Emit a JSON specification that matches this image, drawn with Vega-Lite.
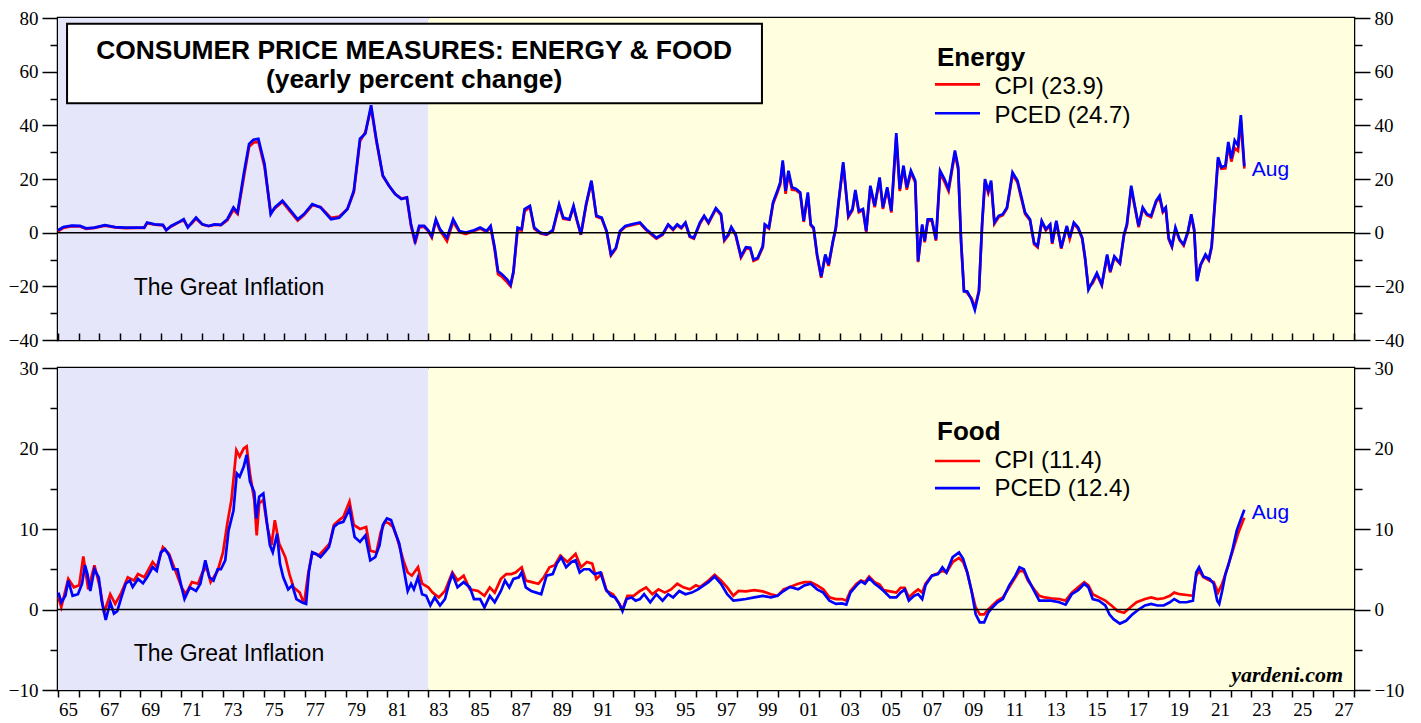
{
  "$schema": "https://vega.github.io/schema/vega-lite/v6.json",
  "padding": {"left": 7, "top": 7, "right": 5, "bottom": 5},
  "background": "white",
  "bounds": "flush",
  "spacing": 28,
  "config": {
    "view": {"stroke": "#000", "strokeWidth": 2.5},
    "axis": {"domain": false, "grid": false, "tickColor": "#000", "tickWidth": 1.5, "labelColor": "#000", "labelFont": "Liberation Serif", "labelFontSize": 19},
    "text": {"font": "Liberation Sans", "color": "#000"}
  },
  "datasets": {
    "bands": [{"t": 1965, "t2": 1983, "era": "gi"}, {"t": 1983, "t2": 2028, "era": "post"}],
    "energy": [
      {"t":1965.0,"CPI":0.5,"PCED":0.9},{"t":1965.26,"CPI":1.8,"PCED":2.1},{"t":1965.67,"CPI":2.4,"PCED":2.6},{"t":1966.07,"CPI":2.3,"PCED":2.5},{"t":1966.37,"CPI":1.4,"PCED":1.6},{"t":1966.77,"CPI":1.8,"PCED":1.9},{"t":1967.28,"CPI":2.6,"PCED":2.8},{"t":1967.78,"CPI":2.0,"PCED":2.1},{"t":1968.29,"CPI":1.7,"PCED":1.9},{"t":1968.79,"CPI":1.8,"PCED":1.9},{"t":1969.19,"CPI":1.8,"PCED":1.9},{"t":1969.33,"CPI":3.5,"PCED":3.8},{"t":1969.7,"CPI":3.0,"PCED":3.1},{"t":1970.1,"CPI":2.7,"PCED":2.9},{"t":1970.26,"CPI":1.0,"PCED":0.9},{"t":1970.5,"CPI":2.3,"PCED":2.5},{"t":1970.91,"CPI":4.0,"PCED":4.1},{"t":1971.11,"CPI":4.6,"PCED":5.0},{"t":1971.31,"CPI":2.2,"PCED":1.9},{"t":1971.51,"CPI":3.5,"PCED":3.8},{"t":1971.71,"CPI":5.2,"PCED":5.6},{"t":1972.02,"CPI":3.0,"PCED":3.1},{"t":1972.32,"CPI":2.4,"PCED":2.5},{"t":1972.62,"CPI":3.0,"PCED":3.1},{"t":1972.92,"CPI":2.8,"PCED":2.9},{"t":1973.23,"CPI":4.6,"PCED":5.0},{"t":1973.53,"CPI":8.5,"PCED":9.4},{"t":1973.73,"CPI":7.0,"PCED":7.5},{"t":1974.03,"CPI":20.5,"PCED":21.9},{"t":1974.29,"CPI":32.0,"PCED":33.1},{"t":1974.5,"CPI":33.5,"PCED":34.6},{"t":1974.74,"CPI":34.0,"PCED":35.0},{"t":1975.04,"CPI":24.5,"PCED":25.6},{"t":1975.34,"CPI":7.5,"PCED":6.9},{"t":1975.54,"CPI":9.0,"PCED":9.4},{"t":1975.91,"CPI":11.5,"PCED":11.9},{"t":1976.25,"CPI":8.2,"PCED":8.8},{"t":1976.65,"CPI":4.5,"PCED":5.0},{"t":1976.96,"CPI":6.6,"PCED":6.9},{"t":1977.36,"CPI":10.2,"PCED":10.6},{"t":1977.76,"CPI":9.6,"PCED":9.4},{"t":1978.27,"CPI":5.5,"PCED":5.0},{"t":1978.67,"CPI":6.0,"PCED":5.6},{"t":1979.07,"CPI":8.8,"PCED":8.8},{"t":1979.38,"CPI":15.0,"PCED":15.6},{"t":1979.68,"CPI":34.0,"PCED":35.0},{"t":1979.94,"CPI":37.5,"PCED":36.9},{"t":1980.22,"CPI":46.5,"PCED":47.5},{"t":1980.48,"CPI":34.0,"PCED":34.4},{"t":1980.79,"CPI":21.0,"PCED":21.3},{"t":1981.09,"CPI":17.5,"PCED":17.5},{"t":1981.39,"CPI":14.4,"PCED":14.4},{"t":1981.69,"CPI":12.8,"PCED":12.5},{"t":1981.96,"CPI":13.0,"PCED":13.1},{"t":1982.16,"CPI":2.5,"PCED":3.1},{"t":1982.36,"CPI":-4.0,"PCED":-3.1},{"t":1982.56,"CPI":2.0,"PCED":2.5},{"t":1982.8,"CPI":2.2,"PCED":2.5},{"t":1983.0,"CPI":0.5,"PCED":0.9},{"t":1983.17,"CPI":-1.8,"PCED":-1.3},{"t":1983.37,"CPI":4.5,"PCED":5.0},{"t":1983.57,"CPI":0.8,"PCED":1.3},{"t":1983.91,"CPI":-3.2,"PCED":-1.9},{"t":1984.21,"CPI":4.0,"PCED":5.0},{"t":1984.52,"CPI":0.2,"PCED":0.6},{"t":1984.82,"CPI":-0.5,"PCED":0.0},{"t":1985.22,"CPI":0.6,"PCED":0.9},{"t":1985.52,"CPI":1.5,"PCED":1.9},{"t":1985.83,"CPI":0.3,"PCED":0.6},{"t":1986.03,"CPI":2.0,"PCED":2.5},{"t":1986.23,"CPI":-6.5,"PCED":-5.6},{"t":1986.39,"CPI":-15.5,"PCED":-14.4},{"t":1986.59,"CPI":-16.5,"PCED":-15.6},{"t":1986.84,"CPI":-18.5,"PCED":-17.5},{"t":1987.0,"CPI":-20.0,"PCED":-19.4},{"t":1987.14,"CPI":-15.0,"PCED":-14.4},{"t":1987.34,"CPI":1.0,"PCED":1.9},{"t":1987.54,"CPI":0.8,"PCED":1.3},{"t":1987.68,"CPI":8.0,"PCED":8.8},{"t":1987.94,"CPI":9.5,"PCED":10.0},{"t":1988.15,"CPI":1.5,"PCED":1.9},{"t":1988.45,"CPI":-0.3,"PCED":0.0},{"t":1988.75,"CPI":-0.8,"PCED":-0.6},{"t":1989.05,"CPI":0.6,"PCED":0.9},{"t":1989.36,"CPI":10.0,"PCED":10.6},{"t":1989.56,"CPI":5.2,"PCED":5.6},{"t":1989.86,"CPI":4.8,"PCED":5.0},{"t":1990.06,"CPI":9.5,"PCED":10.0},{"t":1990.22,"CPI":4.6,"PCED":5.0},{"t":1990.42,"CPI":-0.8,"PCED":-0.6},{"t":1990.67,"CPI":10.0,"PCED":10.6},{"t":1990.93,"CPI":19.0,"PCED":19.4},{"t":1991.17,"CPI":6.0,"PCED":6.3},{"t":1991.43,"CPI":5.2,"PCED":5.6},{"t":1991.67,"CPI":0.3,"PCED":0.6},{"t":1991.88,"CPI":-8.5,"PCED":-8.1},{"t":1992.12,"CPI":-6.0,"PCED":-5.6},{"t":1992.32,"CPI":0.3,"PCED":0.6},{"t":1992.58,"CPI":2.2,"PCED":2.5},{"t":1992.88,"CPI":2.8,"PCED":3.1},{"t":1993.29,"CPI":3.5,"PCED":3.8},{"t":1993.59,"CPI":1.0,"PCED":1.3},{"t":1993.89,"CPI":-1.0,"PCED":-0.6},{"t":1994.09,"CPI":-2.2,"PCED":-1.9},{"t":1994.39,"CPI":-0.8,"PCED":-0.6},{"t":1994.66,"CPI":2.8,"PCED":3.1},{"t":1994.9,"CPI":1.0,"PCED":1.3},{"t":1995.1,"CPI":2.8,"PCED":3.1},{"t":1995.3,"CPI":1.6,"PCED":1.9},{"t":1995.5,"CPI":3.5,"PCED":3.8},{"t":1995.71,"CPI":-1.5,"PCED":-1.3},{"t":1995.91,"CPI":-2.2,"PCED":-1.9},{"t":1996.21,"CPI":3.4,"PCED":3.8},{"t":1996.41,"CPI":6.0,"PCED":6.3},{"t":1996.62,"CPI":3.5,"PCED":3.8},{"t":1996.98,"CPI":8.8,"PCED":9.1},{"t":1997.23,"CPI":6.5,"PCED":6.9},{"t":1997.39,"CPI":-3.0,"PCED":-2.5},{"t":1997.59,"CPI":-1.0,"PCED":-0.6},{"t":1997.73,"CPI":1.8,"PCED":2.1},{"t":1997.94,"CPI":-1.0,"PCED":-0.6},{"t":1998.2,"CPI":-9.3,"PCED":-8.8},{"t":1998.44,"CPI":-6.0,"PCED":-5.4},{"t":1998.65,"CPI":-6.0,"PCED":-5.6},{"t":1998.81,"CPI":-10.5,"PCED":-10.0},{"t":1999.01,"CPI":-9.8,"PCED":-9.4},{"t":1999.26,"CPI":-5.5,"PCED":-5.0},{"t":1999.36,"CPI":2.6,"PCED":3.1},{"t":1999.56,"CPI":1.5,"PCED":1.9},{"t":1999.76,"CPI":10.8,"PCED":11.3},{"t":1999.97,"CPI":15.0,"PCED":15.6},{"t":2000.11,"CPI":18.0,"PCED":18.8},{"t":2000.23,"CPI":25.8,"PCED":26.9},{"t":2000.37,"CPI":14.5,"PCED":15.6},{"t":2000.51,"CPI":22.0,"PCED":23.1},{"t":2000.68,"CPI":16.0,"PCED":16.9},{"t":2000.88,"CPI":15.8,"PCED":16.3},{"t":2001.08,"CPI":14.5,"PCED":15.0},{"t":2001.25,"CPI":4.0,"PCED":4.4},{"t":2001.45,"CPI":14.0,"PCED":15.0},{"t":2001.59,"CPI":2.8,"PCED":3.1},{"t":2001.73,"CPI":1.5,"PCED":1.9},{"t":2001.9,"CPI":-8.6,"PCED":-8.1},{"t":2002.1,"CPI":-16.8,"PCED":-16.3},{"t":2002.3,"CPI":-8.6,"PCED":-8.1},{"t":2002.46,"CPI":-12.4,"PCED":-11.9},{"t":2002.67,"CPI":-3.5,"PCED":-3.1},{"t":2002.81,"CPI":1.4,"PCED":1.9},{"t":2002.95,"CPI":11.3,"PCED":11.9},{"t":2003.17,"CPI":25.5,"PCED":26.3},{"t":2003.42,"CPI":5.8,"PCED":6.3},{"t":2003.62,"CPI":8.3,"PCED":8.8},{"t":2003.76,"CPI":15.0,"PCED":15.9},{"t":2003.93,"CPI":7.6,"PCED":8.1},{"t":2004.13,"CPI":8.3,"PCED":8.8},{"t":2004.29,"CPI":0.2,"PCED":0.6},{"t":2004.49,"CPI":16.8,"PCED":17.5},{"t":2004.7,"CPI":9.5,"PCED":10.0},{"t":2004.94,"CPI":19.8,"PCED":20.6},{"t":2005.1,"CPI":8.8,"PCED":9.4},{"t":2005.31,"CPI":16.2,"PCED":16.9},{"t":2005.51,"CPI":7.5,"PCED":8.1},{"t":2005.75,"CPI":35.5,"PCED":37.1},{"t":2005.92,"CPI":15.5,"PCED":16.3},{"t":2006.1,"CPI":24.0,"PCED":25.0},{"t":2006.26,"CPI":16.0,"PCED":16.9},{"t":2006.46,"CPI":22.3,"PCED":23.1},{"t":2006.67,"CPI":18.8,"PCED":19.4},{"t":2006.81,"CPI":-11.0,"PCED":-10.6},{"t":2007.01,"CPI":2.5,"PCED":3.1},{"t":2007.13,"CPI":-3.6,"PCED":-3.1},{"t":2007.28,"CPI":4.4,"PCED":5.0},{"t":2007.48,"CPI":4.5,"PCED":5.0},{"t":2007.68,"CPI":-3.0,"PCED":-2.5},{"t":2007.88,"CPI":22.0,"PCED":23.1},{"t":2008.09,"CPI":19.0,"PCED":20.0},{"t":2008.29,"CPI":15.5,"PCED":16.3},{"t":2008.6,"CPI":29.5,"PCED":30.6},{"t":2008.76,"CPI":23.5,"PCED":24.4},{"t":2008.9,"CPI":-3.5,"PCED":-3.1},{"t":2009.04,"CPI":-21.5,"PCED":-21.9},{"t":2009.2,"CPI":-22.5,"PCED":-21.9},{"t":2009.41,"CPI":-24.5,"PCED":-25.0},{"t":2009.57,"CPI":-27.8,"PCED":-28.8},{"t":2009.77,"CPI":-21.5,"PCED":-21.9},{"t":2009.92,"CPI":2.5,"PCED":3.1},{"t":2010.06,"CPI":18.8,"PCED":20.0},{"t":2010.22,"CPI":14.8,"PCED":15.6},{"t":2010.36,"CPI":18.5,"PCED":19.4},{"t":2010.52,"CPI":3.3,"PCED":3.8},{"t":2010.73,"CPI":5.8,"PCED":6.3},{"t":2010.93,"CPI":6.5,"PCED":6.9},{"t":2011.13,"CPI":9.0,"PCED":9.4},{"t":2011.4,"CPI":21.5,"PCED":22.5},{"t":2011.64,"CPI":18.8,"PCED":19.4},{"t":2011.8,"CPI":13.6,"PCED":14.4},{"t":2012.01,"CPI":7.0,"PCED":7.5},{"t":2012.25,"CPI":4.6,"PCED":5.0},{"t":2012.45,"CPI":-4.3,"PCED":-3.8},{"t":2012.62,"CPI":-5.5,"PCED":-5.0},{"t":2012.82,"CPI":4.0,"PCED":4.4},{"t":2013.02,"CPI":0.9,"PCED":1.3},{"t":2013.23,"CPI":2.7,"PCED":3.1},{"t":2013.33,"CPI":-4.2,"PCED":-3.8},{"t":2013.53,"CPI":4.0,"PCED":4.4},{"t":2013.77,"CPI":-6.0,"PCED":-5.6},{"t":2014.04,"CPI":2.1,"PCED":2.5},{"t":2014.18,"CPI":-2.3,"PCED":-1.9},{"t":2014.38,"CPI":3.3,"PCED":3.8},{"t":2014.59,"CPI":1.5,"PCED":1.9},{"t":2014.79,"CPI":-2.4,"PCED":-1.9},{"t":2014.93,"CPI":-10.0,"PCED":-9.4},{"t":2015.09,"CPI":-20.5,"PCED":-21.3},{"t":2015.3,"CPI":-18.8,"PCED":-18.1},{"t":2015.5,"CPI":-15.6,"PCED":-15.0},{"t":2015.74,"CPI":-19.6,"PCED":-19.4},{"t":2016.0,"CPI":-8.8,"PCED":-8.1},{"t":2016.15,"CPI":-14.8,"PCED":-14.4},{"t":2016.35,"CPI":-9.3,"PCED":-8.8},{"t":2016.62,"CPI":-11.6,"PCED":-11.3},{"t":2016.82,"CPI":-1.0,"PCED":-0.6},{"t":2016.96,"CPI":2.6,"PCED":3.1},{"t":2017.17,"CPI":16.5,"PCED":17.5},{"t":2017.33,"CPI":10.0,"PCED":10.6},{"t":2017.53,"CPI":2.0,"PCED":2.5},{"t":2017.73,"CPI":8.8,"PCED":9.4},{"t":2017.94,"CPI":6.5,"PCED":6.9},{"t":2018.14,"CPI":5.8,"PCED":6.3},{"t":2018.38,"CPI":11.4,"PCED":11.9},{"t":2018.55,"CPI":13.0,"PCED":13.8},{"t":2018.71,"CPI":7.6,"PCED":8.1},{"t":2018.85,"CPI":8.9,"PCED":9.4},{"t":2018.99,"CPI":-2.4,"PCED":-1.9},{"t":2019.15,"CPI":-5.3,"PCED":-5.0},{"t":2019.32,"CPI":1.4,"PCED":1.9},{"t":2019.52,"CPI":-2.8,"PCED":-2.5},{"t":2019.72,"CPI":-4.8,"PCED":-4.4},{"t":2019.93,"CPI":0.2,"PCED":0.6},{"t":2020.09,"CPI":6.3,"PCED":6.9},{"t":2020.23,"CPI":0.8,"PCED":1.3},{"t":2020.37,"CPI":-17.7,"PCED":-18.1},{"t":2020.54,"CPI":-12.2,"PCED":-11.9},{"t":2020.78,"CPI":-8.6,"PCED":-8.1},{"t":2020.94,"CPI":-10.3,"PCED":-10.0},{"t":2021.08,"CPI":-5.5,"PCED":-5.0},{"t":2021.23,"CPI":9.8,"PCED":10.6},{"t":2021.39,"CPI":27.0,"PCED":28.1},{"t":2021.55,"CPI":23.8,"PCED":24.4},{"t":2021.75,"CPI":24.0,"PCED":25.0},{"t":2021.89,"CPI":32.5,"PCED":33.8},{"t":2022.04,"CPI":26.5,"PCED":27.5},{"t":2022.2,"CPI":31.5,"PCED":34.4},{"t":2022.36,"CPI":30.5,"PCED":32.5},{"t":2022.5,"CPI":41.5,"PCED":43.8},{"t":2022.67,"CPI":23.9,"PCED":24.7}
    ],
    "food": [
      {"t":1965.02,"s":"CPI","v":1.5},{"t":1965.16,"s":"CPI","v":0.3},{"t":1965.5,"s":"CPI","v":3.8},{"t":1965.77,"s":"CPI","v":2.75},{"t":1966.03,"s":"CPI","v":3.0},{"t":1966.23,"s":"CPI","v":6.6},{"t":1966.47,"s":"CPI","v":2.5},{"t":1966.77,"s":"CPI","v":5.5},{"t":1967.04,"s":"CPI","v":2.75},{"t":1967.24,"s":"CPI","v":-0.4},{"t":1967.54,"s":"CPI","v":1.9},{"t":1967.78,"s":"CPI","v":0.7},{"t":1968.08,"s":"CPI","v":2.1},{"t":1968.39,"s":"CPI","v":4.0},{"t":1968.69,"s":"CPI","v":3.6},{"t":1968.89,"s":"CPI","v":4.4},{"t":1969.19,"s":"CPI","v":4.0},{"t":1969.6,"s":"CPI","v":5.9},{"t":1969.8,"s":"CPI","v":5.25},{"t":1970.1,"s":"CPI","v":7.75},{"t":1970.4,"s":"CPI","v":6.9},{"t":1970.71,"s":"CPI","v":4.8},{"t":1971.01,"s":"CPI","v":2.75},{"t":1971.21,"s":"CPI","v":1.9},{"t":1971.51,"s":"CPI","v":3.4},{"t":1971.81,"s":"CPI","v":3.2},{"t":1972.02,"s":"CPI","v":4.6},{"t":1972.22,"s":"CPI","v":5.25},{"t":1972.42,"s":"CPI","v":3.4},{"t":1972.76,"s":"CPI","v":4.8},{"t":1973.02,"s":"CPI","v":7.1},{"t":1973.23,"s":"CPI","v":10.7},{"t":1973.43,"s":"CPI","v":13.6},{"t":1973.67,"s":"CPI","v":19.8},{"t":1973.83,"s":"CPI","v":19.0},{"t":1974.03,"s":"CPI","v":20.0},{"t":1974.17,"s":"CPI","v":20.25},{"t":1974.33,"s":"CPI","v":16.9},{"t":1974.54,"s":"CPI","v":13.6},{"t":1974.66,"s":"CPI","v":9.2},{"t":1974.78,"s":"CPI","v":13.2},{"t":1974.98,"s":"CPI","v":13.6},{"t":1975.18,"s":"CPI","v":10.25},{"t":1975.38,"s":"CPI","v":8.0},{"t":1975.54,"s":"CPI","v":11.1},{"t":1975.75,"s":"CPI","v":8.2},{"t":1976.05,"s":"CPI","v":6.5},{"t":1976.25,"s":"CPI","v":4.4},{"t":1976.45,"s":"CPI","v":2.75},{"t":1976.75,"s":"CPI","v":2.1},{"t":1976.96,"s":"CPI","v":0.7},{"t":1977.16,"s":"CPI","v":4.4},{"t":1977.36,"s":"CPI","v":7.1},{"t":1977.66,"s":"CPI","v":6.7},{"t":1977.96,"s":"CPI","v":7.5},{"t":1978.21,"s":"CPI","v":8.2},{"t":1978.41,"s":"CPI","v":10.5},{"t":1978.67,"s":"CPI","v":11.1},{"t":1978.87,"s":"CPI","v":11.5},{"t":1979.17,"s":"CPI","v":13.4},{"t":1979.38,"s":"CPI","v":10.5},{"t":1979.68,"s":"CPI","v":10.0},{"t":1979.98,"s":"CPI","v":10.25},{"t":1980.18,"s":"CPI","v":7.3},{"t":1980.48,"s":"CPI","v":7.1},{"t":1980.69,"s":"CPI","v":9.6},{"t":1980.89,"s":"CPI","v":10.9},{"t":1981.09,"s":"CPI","v":10.7},{"t":1981.29,"s":"CPI","v":10.25},{"t":1981.49,"s":"CPI","v":8.8},{"t":1981.79,"s":"CPI","v":6.1},{"t":1982.0,"s":"CPI","v":4.6},{"t":1982.2,"s":"CPI","v":4.2},{"t":1982.5,"s":"CPI","v":5.25},{"t":1982.7,"s":"CPI","v":3.2},{"t":1983.0,"s":"CPI","v":2.75},{"t":1983.21,"s":"CPI","v":2.1},{"t":1983.51,"s":"CPI","v":1.5},{"t":1983.81,"s":"CPI","v":2.3},{"t":1984.17,"s":"CPI","v":4.6},{"t":1984.42,"s":"CPI","v":3.6},{"t":1984.72,"s":"CPI","v":4.2},{"t":1985.02,"s":"CPI","v":2.5},{"t":1985.42,"s":"CPI","v":2.3},{"t":1985.73,"s":"CPI","v":1.7},{"t":1985.99,"s":"CPI","v":2.75},{"t":1986.23,"s":"CPI","v":2.1},{"t":1986.53,"s":"CPI","v":3.8},{"t":1986.79,"s":"CPI","v":4.4},{"t":1987.04,"s":"CPI","v":4.4},{"t":1987.24,"s":"CPI","v":4.6},{"t":1987.54,"s":"CPI","v":5.25},{"t":1987.74,"s":"CPI","v":3.6},{"t":1988.04,"s":"CPI","v":3.4},{"t":1988.35,"s":"CPI","v":3.2},{"t":1988.61,"s":"CPI","v":4.0},{"t":1988.89,"s":"CPI","v":5.25},{"t":1989.15,"s":"CPI","v":5.5},{"t":1989.42,"s":"CPI","v":6.7},{"t":1989.76,"s":"CPI","v":5.9},{"t":1990.16,"s":"CPI","v":6.9},{"t":1990.42,"s":"CPI","v":5.25},{"t":1990.71,"s":"CPI","v":5.9},{"t":1990.97,"s":"CPI","v":5.7},{"t":1991.17,"s":"CPI","v":3.8},{"t":1991.43,"s":"CPI","v":4.4},{"t":1991.67,"s":"CPI","v":2.3},{"t":1991.98,"s":"CPI","v":1.9},{"t":1992.24,"s":"CPI","v":0.9},{"t":1992.44,"s":"CPI","v":0.0},{"t":1992.68,"s":"CPI","v":1.7},{"t":1992.98,"s":"CPI","v":1.7},{"t":1993.29,"s":"CPI","v":2.3},{"t":1993.59,"s":"CPI","v":2.75},{"t":1993.89,"s":"CPI","v":1.9},{"t":1994.19,"s":"CPI","v":2.5},{"t":1994.5,"s":"CPI","v":2.1},{"t":1994.8,"s":"CPI","v":2.5},{"t":1995.1,"s":"CPI","v":3.2},{"t":1995.4,"s":"CPI","v":2.75},{"t":1995.71,"s":"CPI","v":2.5},{"t":1996.01,"s":"CPI","v":3.0},{"t":1996.21,"s":"CPI","v":2.8},{"t":1996.62,"s":"CPI","v":3.6},{"t":1996.92,"s":"CPI","v":4.3},{"t":1997.23,"s":"CPI","v":3.6},{"t":1997.53,"s":"CPI","v":2.75},{"t":1997.83,"s":"CPI","v":1.7},{"t":1998.08,"s":"CPI","v":2.3},{"t":1998.44,"s":"CPI","v":2.25},{"t":1998.85,"s":"CPI","v":2.4},{"t":1999.26,"s":"CPI","v":2.25},{"t":1999.66,"s":"CPI","v":1.9},{"t":1999.97,"s":"CPI","v":1.7},{"t":2000.27,"s":"CPI","v":2.5},{"t":2000.58,"s":"CPI","v":2.8},{"t":2000.98,"s":"CPI","v":3.2},{"t":2001.29,"s":"CPI","v":3.4},{"t":2001.59,"s":"CPI","v":3.4},{"t":2001.9,"s":"CPI","v":3.0},{"t":2002.2,"s":"CPI","v":2.5},{"t":2002.5,"s":"CPI","v":1.5},{"t":2002.81,"s":"CPI","v":1.3},{"t":2003.11,"s":"CPI","v":1.3},{"t":2003.32,"s":"CPI","v":1.1},{"t":2003.52,"s":"CPI","v":2.3},{"t":2003.82,"s":"CPI","v":3.2},{"t":2004.03,"s":"CPI","v":3.6},{"t":2004.23,"s":"CPI","v":3.4},{"t":2004.43,"s":"CPI","v":4.1},{"t":2004.7,"s":"CPI","v":3.4},{"t":2004.94,"s":"CPI","v":3.1},{"t":2005.14,"s":"CPI","v":2.4},{"t":2005.45,"s":"CPI","v":2.25},{"t":2005.75,"s":"CPI","v":2.1},{"t":2005.96,"s":"CPI","v":2.7},{"t":2006.16,"s":"CPI","v":2.7},{"t":2006.36,"s":"CPI","v":1.5},{"t":2006.61,"s":"CPI","v":2.1},{"t":2006.81,"s":"CPI","v":2.5},{"t":2007.01,"s":"CPI","v":2.1},{"t":2007.17,"s":"CPI","v":3.2},{"t":2007.48,"s":"CPI","v":4.2},{"t":2007.78,"s":"CPI","v":4.5},{"t":2007.99,"s":"CPI","v":4.8},{"t":2008.19,"s":"CPI","v":4.6},{"t":2008.49,"s":"CPI","v":5.9},{"t":2008.8,"s":"CPI","v":6.4},{"t":2009.0,"s":"CPI","v":5.9},{"t":2009.2,"s":"CPI","v":4.6},{"t":2009.41,"s":"CPI","v":2.3},{"t":2009.61,"s":"CPI","v":0.25},{"t":2009.81,"s":"CPI","v":-0.6},{"t":2010.02,"s":"CPI","v":-0.6},{"t":2010.22,"s":"CPI","v":0.0},{"t":2010.42,"s":"CPI","v":0.5},{"t":2010.67,"s":"CPI","v":1.1},{"t":2010.93,"s":"CPI","v":1.5},{"t":2011.24,"s":"CPI","v":2.75},{"t":2011.54,"s":"CPI","v":4.0},{"t":2011.74,"s":"CPI","v":4.8},{"t":2011.95,"s":"CPI","v":4.75},{"t":2012.15,"s":"CPI","v":3.6},{"t":2012.45,"s":"CPI","v":2.5},{"t":2012.7,"s":"CPI","v":1.7},{"t":2012.96,"s":"CPI","v":1.5},{"t":2013.27,"s":"CPI","v":1.4},{"t":2013.67,"s":"CPI","v":1.3},{"t":2013.98,"s":"CPI","v":1.1},{"t":2014.28,"s":"CPI","v":2.1},{"t":2014.59,"s":"CPI","v":2.75},{"t":2014.89,"s":"CPI","v":3.4},{"t":2015.09,"s":"CPI","v":3.0},{"t":2015.3,"s":"CPI","v":1.9},{"t":2015.6,"s":"CPI","v":1.5},{"t":2015.91,"s":"CPI","v":1.1},{"t":2016.21,"s":"CPI","v":0.5},{"t":2016.51,"s":"CPI","v":-0.2},{"t":2016.82,"s":"CPI","v":-0.4},{"t":2017.12,"s":"CPI","v":0.25},{"t":2017.43,"s":"CPI","v":0.9},{"t":2017.84,"s":"CPI","v":1.3},{"t":2018.14,"s":"CPI","v":1.5},{"t":2018.44,"s":"CPI","v":1.3},{"t":2018.75,"s":"CPI","v":1.4},{"t":2019.05,"s":"CPI","v":1.7},{"t":2019.26,"s":"CPI","v":2.1},{"t":2019.52,"s":"CPI","v":1.9},{"t":2019.87,"s":"CPI","v":1.8},{"t":2020.17,"s":"CPI","v":1.7},{"t":2020.33,"s":"CPI","v":4.2},{"t":2020.47,"s":"CPI","v":4.8},{"t":2020.68,"s":"CPI","v":4.0},{"t":2020.98,"s":"CPI","v":3.6},{"t":2021.18,"s":"CPI","v":3.4},{"t":2021.39,"s":"CPI","v":2.1},{"t":2021.59,"s":"CPI","v":3.2},{"t":2021.75,"s":"CPI","v":4.4},{"t":2021.96,"s":"CPI","v":6.1},{"t":2022.16,"s":"CPI","v":7.75},{"t":2022.36,"s":"CPI","v":9.4},{"t":2022.6,"s":"CPI","v":11.0},{"t":2022.67,"s":"CPI","v":11.4},
      {"t":1965.02,"s":"PCED","v":2.1},{"t":1965.16,"s":"PCED","v":0.9},{"t":1965.36,"s":"PCED","v":1.7},{"t":1965.5,"s":"PCED","v":3.6},{"t":1965.71,"s":"PCED","v":1.7},{"t":1965.97,"s":"PCED","v":1.9},{"t":1966.17,"s":"PCED","v":3.2},{"t":1966.31,"s":"PCED","v":5.5},{"t":1966.43,"s":"PCED","v":4.4},{"t":1966.57,"s":"PCED","v":2.3},{"t":1966.77,"s":"PCED","v":5.0},{"t":1966.98,"s":"PCED","v":4.0},{"t":1967.12,"s":"PCED","v":1.1},{"t":1967.32,"s":"PCED","v":-1.3},{"t":1967.54,"s":"PCED","v":0.9},{"t":1967.72,"s":"PCED","v":-0.5},{"t":1967.88,"s":"PCED","v":-0.2},{"t":1968.08,"s":"PCED","v":1.5},{"t":1968.29,"s":"PCED","v":3.2},{"t":1968.49,"s":"PCED","v":3.6},{"t":1968.63,"s":"PCED","v":2.8},{"t":1968.89,"s":"PCED","v":3.8},{"t":1969.13,"s":"PCED","v":3.25},{"t":1969.33,"s":"PCED","v":4.0},{"t":1969.6,"s":"PCED","v":5.25},{"t":1969.8,"s":"PCED","v":4.8},{"t":1970.0,"s":"PCED","v":7.1},{"t":1970.2,"s":"PCED","v":7.5},{"t":1970.4,"s":"PCED","v":6.7},{"t":1970.6,"s":"PCED","v":5.0},{"t":1970.81,"s":"PCED","v":5.0},{"t":1971.01,"s":"PCED","v":2.75},{"t":1971.15,"s":"PCED","v":1.3},{"t":1971.41,"s":"PCED","v":2.75},{"t":1971.71,"s":"PCED","v":2.3},{"t":1971.92,"s":"PCED","v":3.2},{"t":1972.16,"s":"PCED","v":6.1},{"t":1972.36,"s":"PCED","v":4.0},{"t":1972.56,"s":"PCED","v":3.6},{"t":1972.76,"s":"PCED","v":5.0},{"t":1972.92,"s":"PCED","v":5.0},{"t":1973.13,"s":"PCED","v":6.1},{"t":1973.29,"s":"PCED","v":9.8},{"t":1973.53,"s":"PCED","v":12.3},{"t":1973.69,"s":"PCED","v":16.9},{"t":1973.83,"s":"PCED","v":16.5},{"t":1974.03,"s":"PCED","v":17.75},{"t":1974.17,"s":"PCED","v":19.2},{"t":1974.33,"s":"PCED","v":15.9},{"t":1974.54,"s":"PCED","v":14.6},{"t":1974.64,"s":"PCED","v":11.3},{"t":1974.78,"s":"PCED","v":14.0},{"t":1974.98,"s":"PCED","v":14.4},{"t":1975.14,"s":"PCED","v":11.1},{"t":1975.3,"s":"PCED","v":8.0},{"t":1975.44,"s":"PCED","v":7.1},{"t":1975.65,"s":"PCED","v":9.4},{"t":1975.79,"s":"PCED","v":5.7},{"t":1975.95,"s":"PCED","v":4.0},{"t":1976.19,"s":"PCED","v":2.5},{"t":1976.39,"s":"PCED","v":3.0},{"t":1976.59,"s":"PCED","v":1.3},{"t":1976.85,"s":"PCED","v":0.9},{"t":1977.06,"s":"PCED","v":0.7},{"t":1977.2,"s":"PCED","v":4.8},{"t":1977.36,"s":"PCED","v":7.1},{"t":1977.56,"s":"PCED","v":6.9},{"t":1977.76,"s":"PCED","v":6.5},{"t":1977.96,"s":"PCED","v":7.1},{"t":1978.17,"s":"PCED","v":7.75},{"t":1978.41,"s":"PCED","v":10.25},{"t":1978.61,"s":"PCED","v":10.7},{"t":1978.87,"s":"PCED","v":10.9},{"t":1979.17,"s":"PCED","v":12.5},{"t":1979.42,"s":"PCED","v":9.0},{"t":1979.68,"s":"PCED","v":8.4},{"t":1979.94,"s":"PCED","v":9.2},{"t":1980.18,"s":"PCED","v":6.1},{"t":1980.42,"s":"PCED","v":6.5},{"t":1980.63,"s":"PCED","v":8.0},{"t":1980.79,"s":"PCED","v":10.5},{"t":1980.99,"s":"PCED","v":11.3},{"t":1981.19,"s":"PCED","v":11.1},{"t":1981.39,"s":"PCED","v":9.6},{"t":1981.59,"s":"PCED","v":8.2},{"t":1981.79,"s":"PCED","v":5.25},{"t":1982.0,"s":"PCED","v":2.3},{"t":1982.16,"s":"PCED","v":3.2},{"t":1982.3,"s":"PCED","v":2.5},{"t":1982.5,"s":"PCED","v":4.0},{"t":1982.7,"s":"PCED","v":1.9},{"t":1982.9,"s":"PCED","v":1.7},{"t":1983.1,"s":"PCED","v":0.5},{"t":1983.31,"s":"PCED","v":1.5},{"t":1983.57,"s":"PCED","v":0.5},{"t":1983.81,"s":"PCED","v":1.3},{"t":1984.01,"s":"PCED","v":3.2},{"t":1984.17,"s":"PCED","v":4.4},{"t":1984.42,"s":"PCED","v":2.75},{"t":1984.72,"s":"PCED","v":3.4},{"t":1985.02,"s":"PCED","v":2.75},{"t":1985.22,"s":"PCED","v":1.3},{"t":1985.52,"s":"PCED","v":1.3},{"t":1985.73,"s":"PCED","v":0.25},{"t":1985.99,"s":"PCED","v":1.7},{"t":1986.23,"s":"PCED","v":0.9},{"t":1986.53,"s":"PCED","v":2.3},{"t":1986.73,"s":"PCED","v":3.6},{"t":1986.94,"s":"PCED","v":2.75},{"t":1987.14,"s":"PCED","v":3.8},{"t":1987.4,"s":"PCED","v":4.0},{"t":1987.54,"s":"PCED","v":4.6},{"t":1987.74,"s":"PCED","v":2.75},{"t":1988.0,"s":"PCED","v":2.3},{"t":1988.25,"s":"PCED","v":2.1},{"t":1988.49,"s":"PCED","v":1.9},{"t":1988.75,"s":"PCED","v":4.2},{"t":1989.05,"s":"PCED","v":4.4},{"t":1989.25,"s":"PCED","v":5.7},{"t":1989.46,"s":"PCED","v":6.5},{"t":1989.7,"s":"PCED","v":5.25},{"t":1989.96,"s":"PCED","v":5.9},{"t":1990.16,"s":"PCED","v":6.1},{"t":1990.36,"s":"PCED","v":4.6},{"t":1990.56,"s":"PCED","v":5.0},{"t":1990.83,"s":"PCED","v":5.0},{"t":1991.07,"s":"PCED","v":4.4},{"t":1991.37,"s":"PCED","v":4.6},{"t":1991.63,"s":"PCED","v":2.5},{"t":1991.88,"s":"PCED","v":1.7},{"t":1992.08,"s":"PCED","v":1.5},{"t":1992.28,"s":"PCED","v":0.7},{"t":1992.44,"s":"PCED","v":-0.2},{"t":1992.64,"s":"PCED","v":1.3},{"t":1992.88,"s":"PCED","v":1.5},{"t":1993.08,"s":"PCED","v":1.1},{"t":1993.29,"s":"PCED","v":1.3},{"t":1993.49,"s":"PCED","v":1.9},{"t":1993.79,"s":"PCED","v":0.9},{"t":1994.09,"s":"PCED","v":1.9},{"t":1994.39,"s":"PCED","v":1.1},{"t":1994.66,"s":"PCED","v":1.9},{"t":1994.9,"s":"PCED","v":1.5},{"t":1995.2,"s":"PCED","v":2.3},{"t":1995.5,"s":"PCED","v":1.9},{"t":1995.81,"s":"PCED","v":2.1},{"t":1996.11,"s":"PCED","v":2.5},{"t":1996.62,"s":"PCED","v":3.4},{"t":1996.92,"s":"PCED","v":4.1},{"t":1997.23,"s":"PCED","v":3.2},{"t":1997.53,"s":"PCED","v":1.9},{"t":1997.83,"s":"PCED","v":1.1},{"t":1998.14,"s":"PCED","v":1.2},{"t":1998.44,"s":"PCED","v":1.3},{"t":1998.85,"s":"PCED","v":1.5},{"t":1999.26,"s":"PCED","v":1.7},{"t":1999.66,"s":"PCED","v":1.5},{"t":1999.97,"s":"PCED","v":1.7},{"t":2000.27,"s":"PCED","v":2.3},{"t":2000.58,"s":"PCED","v":2.8},{"t":2000.98,"s":"PCED","v":2.5},{"t":2001.29,"s":"PCED","v":3.0},{"t":2001.59,"s":"PCED","v":3.2},{"t":2001.9,"s":"PCED","v":2.5},{"t":2002.2,"s":"PCED","v":2.1},{"t":2002.5,"s":"PCED","v":1.1},{"t":2002.81,"s":"PCED","v":0.7},{"t":2003.11,"s":"PCED","v":0.75},{"t":2003.32,"s":"PCED","v":0.6},{"t":2003.52,"s":"PCED","v":2.1},{"t":2003.82,"s":"PCED","v":3.0},{"t":2004.03,"s":"PCED","v":3.5},{"t":2004.23,"s":"PCED","v":3.2},{"t":2004.43,"s":"PCED","v":3.9},{"t":2004.7,"s":"PCED","v":3.2},{"t":2004.94,"s":"PCED","v":2.75},{"t":2005.14,"s":"PCED","v":2.3},{"t":2005.45,"s":"PCED","v":1.5},{"t":2005.75,"s":"PCED","v":1.5},{"t":2005.96,"s":"PCED","v":2.1},{"t":2006.16,"s":"PCED","v":2.5},{"t":2006.36,"s":"PCED","v":1.1},{"t":2006.61,"s":"PCED","v":1.7},{"t":2006.81,"s":"PCED","v":1.9},{"t":2007.01,"s":"PCED","v":1.3},{"t":2007.17,"s":"PCED","v":3.0},{"t":2007.48,"s":"PCED","v":4.2},{"t":2007.78,"s":"PCED","v":4.4},{"t":2007.99,"s":"PCED","v":5.25},{"t":2008.19,"s":"PCED","v":4.6},{"t":2008.49,"s":"PCED","v":6.5},{"t":2008.8,"s":"PCED","v":7.1},{"t":2009.0,"s":"PCED","v":6.3},{"t":2009.2,"s":"PCED","v":4.6},{"t":2009.41,"s":"PCED","v":2.3},{"t":2009.61,"s":"PCED","v":-0.6},{"t":2009.81,"s":"PCED","v":-1.6},{"t":2010.02,"s":"PCED","v":-1.6},{"t":2010.22,"s":"PCED","v":-0.4},{"t":2010.42,"s":"PCED","v":0.25},{"t":2010.67,"s":"PCED","v":0.9},{"t":2010.93,"s":"PCED","v":1.3},{"t":2011.24,"s":"PCED","v":3.0},{"t":2011.54,"s":"PCED","v":4.2},{"t":2011.74,"s":"PCED","v":5.25},{"t":2011.95,"s":"PCED","v":5.0},{"t":2012.15,"s":"PCED","v":3.8},{"t":2012.45,"s":"PCED","v":2.3},{"t":2012.7,"s":"PCED","v":1.1},{"t":2012.96,"s":"PCED","v":1.1},{"t":2013.27,"s":"PCED","v":1.1},{"t":2013.67,"s":"PCED","v":0.9},{"t":2013.98,"s":"PCED","v":0.6},{"t":2014.28,"s":"PCED","v":1.9},{"t":2014.59,"s":"PCED","v":2.4},{"t":2014.89,"s":"PCED","v":3.2},{"t":2015.09,"s":"PCED","v":2.75},{"t":2015.3,"s":"PCED","v":1.3},{"t":2015.6,"s":"PCED","v":1.1},{"t":2015.91,"s":"PCED","v":0.5},{"t":2016.11,"s":"PCED","v":-0.6},{"t":2016.31,"s":"PCED","v":-1.2},{"t":2016.62,"s":"PCED","v":-1.75},{"t":2016.92,"s":"PCED","v":-1.4},{"t":2017.23,"s":"PCED","v":-0.6},{"t":2017.53,"s":"PCED","v":0.0},{"t":2017.84,"s":"PCED","v":0.5},{"t":2018.14,"s":"PCED","v":0.7},{"t":2018.44,"s":"PCED","v":0.5},{"t":2018.75,"s":"PCED","v":0.5},{"t":2019.05,"s":"PCED","v":0.9},{"t":2019.26,"s":"PCED","v":1.3},{"t":2019.52,"s":"PCED","v":0.9},{"t":2019.87,"s":"PCED","v":0.9},{"t":2020.17,"s":"PCED","v":1.1},{"t":2020.33,"s":"PCED","v":4.6},{"t":2020.47,"s":"PCED","v":5.25},{"t":2020.68,"s":"PCED","v":4.1},{"t":2020.98,"s":"PCED","v":3.8},{"t":2021.18,"s":"PCED","v":3.2},{"t":2021.35,"s":"PCED","v":1.1},{"t":2021.45,"s":"PCED","v":0.7},{"t":2021.59,"s":"PCED","v":2.3},{"t":2021.75,"s":"PCED","v":4.4},{"t":2021.89,"s":"PCED","v":5.5},{"t":2022.1,"s":"PCED","v":7.5},{"t":2022.3,"s":"PCED","v":9.8},{"t":2022.51,"s":"PCED","v":11.3},{"t":2022.67,"s":"PCED","v":12.4}
    ]
  },
  "vconcat": [
    {
      "width": 1296,
      "height": 322,
      "layer": [
        {"data": {"name": "bands"}, "mark": {"type": "rect"},
         "encoding": {
           "x": {"field": "t", "type": "quantitative", "scale": {"domain": [1965, 2028], "nice": false, "zero": false}, "axis": null},
           "x2": {"field": "t2"},
           "y": {"datum": -40, "type": "quantitative", "scale": {"domain": [-40, 80], "nice": false, "zero": false},
                 "axis": {"title": null, "orient": "left", "values": [-40, -20, 0, 20, 40, 60, 80], "tickSize": 16, "labelPadding": 4}},
           "y2": {"datum": 80},
           "fill": {"field": "era", "type": "nominal", "scale": {"domain": ["gi", "post"], "range": ["#E6E6FA", "#FFFFE0"]}, "legend": null}}},
        {"data": {"values": [{}]}, "mark": {"type": "rule", "opacity": 0},
         "encoding": {"y": {"datum": 0, "type": "quantitative", "scale": {"domain": [-40, 80], "nice": false, "zero": false},
                            "axis": {"title": null, "orient": "left", "values": [-30, -10, 10, 30, 50, 70], "tickSize": 8, "labels": false}}}},
        {"data": {"values": [{}]}, "mark": {"type": "rule", "opacity": 0},
         "encoding": {"y": {"datum": 0, "type": "quantitative", "scale": {"domain": [-40, 80], "nice": false, "zero": false},
                            "axis": {"title": null, "orient": "right", "values": [-30, -10, 10, 30, 50, 70], "tickSize": 8, "labels": false}}}},
        {"data": {"values": [{}]}, "mark": {"type": "rect", "fill": "white", "stroke": "black", "strokeWidth": 2},
         "encoding": {"x": {"datum": 1965.44, "type": "quantitative", "axis": null}, "x2": {"datum": 1999.22}, "y": {"datum": 77.9, "type": "quantitative", "axis": null}, "y2": {"datum": 48.2}}},
        {"data": {"values": [{}]}, "mark": {"type": "text", "fontSize": 26.4, "fontWeight": "bold", "align": "center", "baseline": "alphabetic", "text": "CONSUMER PRICE MEASURES: ENERGY & FOOD"},
         "encoding": {"x": {"datum": 1982.31, "type": "quantitative", "axis": null}, "y": {"datum": 64.8, "type": "quantitative", "axis": null}}},
        {"data": {"values": [{}]}, "mark": {"type": "text", "fontSize": 26.4, "fontWeight": "bold", "align": "center", "baseline": "alphabetic", "text": "(yearly percent change)"},
         "encoding": {"x": {"datum": 1982.31, "type": "quantitative", "axis": null}, "y": {"datum": 53.8, "type": "quantitative", "axis": null}}},
        {"data": {"values": [{}]}, "mark": {"type": "text", "fontSize": 23, "align": "center", "baseline": "alphabetic", "text": "The Great Inflation"},
         "encoding": {"x": {"datum": 1973.31, "type": "quantitative", "axis": null}, "y": {"datum": -23.3, "type": "quantitative", "axis": null}}},
        {"data": {"name": "energy"}, "transform": [{"fold": ["CPI", "PCED"], "as": ["s", "v"]}],
         "mark": {"type": "line", "strokeWidth": 2.7},
         "encoding": {
           "x": {"field": "t", "type": "quantitative", "axis": null},
           "y": {"field": "v", "type": "quantitative", "axis": null},
           "color": {"field": "s", "type": "nominal", "scale": {"domain": ["CPI", "PCED"], "range": ["#FF0000", "#0000FF"]}, "legend": null}}},
        {"data": {"values": [{}]}, "mark": {"type": "rule", "stroke": "#000", "strokeWidth": 1.5},
         "encoding": {"y": {"datum": 0, "type": "quantitative", "scale": {"domain": [-40, 80], "nice": false, "zero": false},
                            "axis": {"title": null, "orient": "right", "values": [-40, -20, 0, 20, 40, 60, 80], "tickSize": 16, "labelPadding": 4}}}},
        {"data": {"values": [{}]}, "mark": {"type": "text", "fontSize": 26, "fontWeight": "bold", "align": "left", "baseline": "alphabetic", "text": "Energy"},
         "encoding": {"x": {"datum": 2007.73, "type": "quantitative", "axis": null}, "y": {"datum": 62.1, "type": "quantitative", "axis": null}}},
        {"data": {"values": [{}]}, "mark": {"type": "rule", "color": "#FF0000", "strokeWidth": 2.7},
         "encoding": {"x": {"datum": 2007.63, "type": "quantitative", "axis": null}, "x2": {"datum": 2009.82}, "y": {"datum": 55.3, "type": "quantitative", "axis": null}}},
        {"data": {"values": [{}]}, "mark": {"type": "text", "fontSize": 24, "align": "left", "baseline": "alphabetic", "text": "CPI (23.9)"},
         "encoding": {"x": {"datum": 2010.52, "type": "quantitative", "axis": null}, "y": {"datum": 51.6, "type": "quantitative", "axis": null}}},
        {"data": {"values": [{}]}, "mark": {"type": "rule", "color": "#0000FF", "strokeWidth": 2.7},
         "encoding": {"x": {"datum": 2007.63, "type": "quantitative", "axis": null}, "x2": {"datum": 2009.82}, "y": {"datum": 44.5, "type": "quantitative", "axis": null}}},
        {"data": {"values": [{}]}, "mark": {"type": "text", "fontSize": 24, "align": "left", "baseline": "alphabetic", "text": "PCED (24.7)"},
         "encoding": {"x": {"datum": 2010.52, "type": "quantitative", "axis": null}, "y": {"datum": 41.0, "type": "quantitative", "axis": null}}},
        {"data": {"values": [{}]}, "mark": {"type": "text", "fontSize": 21, "align": "left", "baseline": "alphabetic", "color": "#0000FF", "text": "Aug"},
         "encoding": {"x": {"datum": 2023.03, "type": "quantitative", "axis": null}, "y": {"datum": 21.1, "type": "quantitative", "axis": null}}},
        {"data": {"values": [{}]}, "mark": {"type": "rule", "opacity": 0},
         "encoding": {"x": {"datum": 1965, "type": "quantitative", "scale": {"domain": [1965, 2028], "nice": false, "zero": false},
                            "axis": {"title": null, "orient": "bottom", "zindex": 1, "values": [1965,1966,1967,1968,1969,1970,1971,1972,1973,1974,1975,1976,1977,1978,1979,1980,1981,1982,1983,1984,1985,1986,1987,1988,1989,1990,1991,1992,1993,1994,1995,1996,1997,1998,1999,2000,2001,2002,2003,2004,2005,2006,2007,2008,2009,2010,2011,2012,2013,2014,2015,2016,2017,2018,2019,2020,2021,2022,2023,2024,2025,2026,2027,2028], "tickSize": 7, "offset": -7, "labels": false}}}}
      ],
      "resolve": {"axis": {"x": "independent", "y": "independent"}}
    },
    {
      "width": 1296,
      "height": 322,
      "layer": [
        {"data": {"name": "bands"}, "mark": {"type": "rect"},
         "encoding": {
           "x": {"field": "t", "type": "quantitative", "scale": {"domain": [1965, 2028], "nice": false, "zero": false}, "axis": null},
           "x2": {"field": "t2"},
           "y": {"datum": -10, "type": "quantitative", "scale": {"domain": [-10, 30], "nice": false, "zero": false},
                 "axis": {"title": null, "orient": "left", "values": [-10, 0, 10, 20, 30], "tickSize": 16, "labelPadding": 4}},
           "y2": {"datum": 30},
           "fill": {"field": "era", "type": "nominal", "scale": {"domain": ["gi", "post"], "range": ["#E6E6FA", "#FFFFE0"]}, "legend": null}}},
        {"data": {"values": [{}]}, "mark": {"type": "rule", "opacity": 0},
         "encoding": {"y": {"datum": 0, "type": "quantitative", "scale": {"domain": [-10, 30], "nice": false, "zero": false},
                            "axis": {"title": null, "orient": "left", "values": [-5, 5, 15, 25], "tickSize": 8, "labels": false}}}},
        {"data": {"values": [{}]}, "mark": {"type": "rule", "opacity": 0},
         "encoding": {"y": {"datum": 0, "type": "quantitative", "scale": {"domain": [-10, 30], "nice": false, "zero": false},
                            "axis": {"title": null, "orient": "right", "values": [-5, 5, 15, 25], "tickSize": 8, "labels": false}}}},
        {"data": {"values": [{}]}, "mark": {"type": "text", "fontSize": 23, "align": "center", "baseline": "alphabetic", "text": "The Great Inflation"},
         "encoding": {"x": {"datum": 1973.31, "type": "quantitative", "axis": null}, "y": {"datum": -6.4, "type": "quantitative", "axis": null}}},
        {"data": {"name": "food"}, "mark": {"type": "line", "strokeWidth": 2.7},
         "encoding": {
           "x": {"field": "t", "type": "quantitative", "axis": null},
           "y": {"field": "v", "type": "quantitative", "axis": null},
           "color": {"field": "s", "type": "nominal", "scale": {"domain": ["CPI", "PCED"], "range": ["#FF0000", "#0000FF"]}, "legend": null}}},
        {"data": {"values": [{}]}, "mark": {"type": "rule", "stroke": "#000", "strokeWidth": 1.5},
         "encoding": {"y": {"datum": 0, "type": "quantitative", "scale": {"domain": [-10, 30], "nice": false, "zero": false},
                            "axis": {"title": null, "orient": "right", "values": [-10, 0, 10, 20, 30], "tickSize": 16, "labelPadding": 4}}}},
        {"data": {"values": [{}]}, "mark": {"type": "text", "fontSize": 26, "fontWeight": "bold", "align": "left", "baseline": "alphabetic", "text": "Food"},
         "encoding": {"x": {"datum": 2007.73, "type": "quantitative", "axis": null}, "y": {"datum": 21.06, "type": "quantitative", "axis": null}}},
        {"data": {"values": [{}]}, "mark": {"type": "rule", "color": "#FF0000", "strokeWidth": 2.7},
         "encoding": {"x": {"datum": 2007.63, "type": "quantitative", "axis": null}, "x2": {"datum": 2009.82}, "y": {"datum": 18.45, "type": "quantitative", "axis": null}}},
        {"data": {"values": [{}]}, "mark": {"type": "text", "fontSize": 24, "align": "left", "baseline": "alphabetic", "text": "CPI (11.4)"},
         "encoding": {"x": {"datum": 2010.52, "type": "quantitative", "axis": null}, "y": {"datum": 17.6, "type": "quantitative", "axis": null}}},
        {"data": {"values": [{}]}, "mark": {"type": "rule", "color": "#0000FF", "strokeWidth": 2.7},
         "encoding": {"x": {"datum": 2007.63, "type": "quantitative", "axis": null}, "x2": {"datum": 2009.82}, "y": {"datum": 15.09, "type": "quantitative", "axis": null}}},
        {"data": {"values": [{}]}, "mark": {"type": "text", "fontSize": 24, "align": "left", "baseline": "alphabetic", "text": "PCED (12.4)"},
         "encoding": {"x": {"datum": 2010.52, "type": "quantitative", "axis": null}, "y": {"datum": 14.1, "type": "quantitative", "axis": null}}},
        {"data": {"values": [{}]}, "mark": {"type": "text", "fontSize": 21, "align": "left", "baseline": "alphabetic", "color": "#0000FF", "text": "Aug"},
         "encoding": {"x": {"datum": 2023.03, "type": "quantitative", "axis": null}, "y": {"datum": 11.24, "type": "quantitative", "axis": null}}},
        {"data": {"values": [{}]}, "mark": {"type": "text", "font": "Liberation Serif", "fontSize": 22, "fontWeight": "bold", "fontStyle": "italic", "align": "right", "baseline": "alphabetic", "text": "yardeni.com"},
         "encoding": {"x": {"datum": 2027.47, "type": "quantitative", "axis": null}, "y": {"datum": -9.0, "type": "quantitative", "axis": null}}},
        {"data": {"values": [{}]}, "mark": {"type": "rule", "opacity": 0},
         "encoding": {"x": {"datum": 1965, "type": "quantitative", "scale": {"domain": [1965, 2028], "nice": false, "zero": false},
                            "axis": {"title": null, "orient": "bottom", "zindex": 1, "values": [1965,1966,1967,1968,1969,1970,1971,1972,1973,1974,1975,1976,1977,1978,1979,1980,1981,1982,1983,1984,1985,1986,1987,1988,1989,1990,1991,1992,1993,1994,1995,1996,1997,1998,1999,2000,2001,2002,2003,2004,2005,2006,2007,2008,2009,2010,2011,2012,2013,2014,2015,2016,2017,2018,2019,2020,2021,2022,2023,2024,2025,2026,2027,2028], "tickSize": 7, "labelPadding": 3, "labelOffset": 10, "labelFlush": false, "labelOverlap": false, "labelBound": false, "labelExpr": "datum.value % 2 == 1 ? slice(toString(datum.value), 2) : ''"}}}}
      ],
      "resolve": {"axis": {"x": "independent", "y": "independent"}}
    }
  ]
}
